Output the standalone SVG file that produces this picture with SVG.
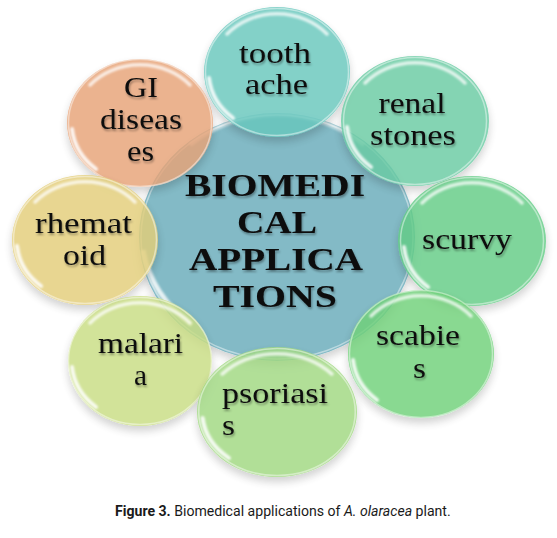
<svg xmlns="http://www.w3.org/2000/svg" width="557" height="538" viewBox="0 0 557 538">
<defs>
<filter id="sh" x="-20%" y="-20%" width="140%" height="150%">
<feDropShadow dx="0" dy="5" stdDeviation="4" flood-color="#000" flood-opacity="0.22"/>
</filter>
<filter id="bl" x="-20%" y="-20%" width="140%" height="140%">
<feGaussianBlur stdDeviation="1.2"/>
</filter>
<filter id="ts" x="-10%" y="-20%" width="130%" height="150%">
<feDropShadow dx="1" dy="2" stdDeviation="1.2" flood-color="#000" flood-opacity="0.35"/>
</filter>
<g id="gloss">
<ellipse cx="0" cy="0" rx="71.5" ry="63.5" fill="none" stroke="#fff" stroke-opacity="0.45" stroke-width="1.5"/>
<path d="M -50 -38 A 66 58 0 0 1 50 -38" fill="none" stroke="#fff" stroke-opacity="0.75" stroke-width="3.5" stroke-linecap="round" filter="url(#bl)"/>
<path d="M -68 6 A 68 60 0 0 0 -44 46" fill="none" stroke="#fff" stroke-opacity="0.85" stroke-width="4" stroke-linecap="round" filter="url(#bl)"/>
</g>
</defs>
<style>
.b{opacity:0.82;filter:url(#sh)}
.t{font-family:"Liberation Serif","Times New Roman",serif;font-size:30px;fill:#111;text-anchor:middle;filter:url(#ts)}
.c{font-family:"Liberation Serif","Times New Roman",serif;font-size:32px;font-weight:bold;fill:#0a0a0a;text-anchor:middle;filter:url(#ts)}
.cap{font-family:Roboto,"Liberation Sans",sans-serif;font-size:15.5px;fill:#1a1a1a}
</style>
<rect width="557" height="538" fill="#fff"/>
<g id="connectors"/>
<g id="center">
<ellipse class="b" cx="277" cy="237" rx="138" ry="124" fill="#68abba"/>
<ellipse cx="277" cy="237" rx="136" ry="122" fill="none" stroke="#fff" stroke-opacity="0.45" stroke-width="1.5"/>
<path d="M 190 145 A 128 114 0 0 1 364 145" fill="none" stroke="#fff" stroke-opacity="0.6" stroke-width="4" filter="url(#bl)"/>
<path d="M 143 250 A 133 118 0 0 0 192 325" fill="none" stroke="#fff" stroke-opacity="0.8" stroke-width="5" filter="url(#bl)"/>
<text class="c" x="275" y="196" textLength="180" lengthAdjust="spacingAndGlyphs">BIOMEDI</text>
<text class="c" x="277" y="233" textLength="80" lengthAdjust="spacingAndGlyphs">CAL</text>
<text class="c" x="276" y="270" textLength="174" lengthAdjust="spacingAndGlyphs">APPLICA</text>
<text class="c" x="275" y="307" textLength="124" lengthAdjust="spacingAndGlyphs">TIONS</text>
</g>
<g id="tooth-ache">
<ellipse class="b" cx="277" cy="72" rx="73" ry="65" fill="#68c7bd"/>
<use href="#gloss" transform="translate(277,72)"/>
<text class="t" x="275" y="63" textLength="72" lengthAdjust="spacingAndGlyphs">tooth</text>
<text class="t" x="276.5" y="94" textLength="63" lengthAdjust="spacingAndGlyphs">ache</text>
</g>
<g id="gi-diseases">
<ellipse class="b" cx="140" cy="123" rx="73" ry="64" fill="#e7a377"/>
<use href="#gloss" transform="translate(140,123)"/>
<text class="t" x="141" y="97" textLength="34" lengthAdjust="spacingAndGlyphs">GI</text>
<text class="t" x="141" y="129" textLength="82" lengthAdjust="spacingAndGlyphs">diseas</text>
<text class="t" x="140.5" y="161" textLength="27" lengthAdjust="spacingAndGlyphs">es</text>
</g>
<g id="renal-stones">
<ellipse class="b" cx="415" cy="121" rx="74" ry="65" fill="#6acba3"/>
<use href="#gloss" transform="translate(415,121)"/>
<text class="t" x="412" y="113" textLength="67" lengthAdjust="spacingAndGlyphs">renal</text>
<text class="t" x="413" y="145" textLength="86" lengthAdjust="spacingAndGlyphs">stones</text>
</g>
<g id="rheumatoid">
<ellipse class="b" cx="85" cy="240" rx="73" ry="65" fill="#e3ce79"/>
<use href="#gloss" transform="translate(85,240)"/>
<text class="t" x="83.5" y="233" textLength="97" lengthAdjust="spacingAndGlyphs">rhemat</text>
<text class="t" x="84.5" y="265" textLength="43" lengthAdjust="spacingAndGlyphs">oid</text>
</g>
<g id="scurvy">
<ellipse class="b" cx="472" cy="241" rx="74" ry="65" fill="#63cc86"/>
<use href="#gloss" transform="translate(472,241)"/>
<text class="t" x="467" y="249" textLength="90" lengthAdjust="spacingAndGlyphs">scurvy</text>
</g>
<g id="malaria">
<ellipse class="b" cx="140" cy="361" rx="72" ry="65" fill="#c9dd83"/>
<use href="#gloss" transform="translate(140,361)"/>
<text class="t" x="140.5" y="353" textLength="85" lengthAdjust="spacingAndGlyphs">malari</text>
<text class="t" x="140.5" y="385" textLength="13" lengthAdjust="spacingAndGlyphs">a</text>
</g>
<g id="scabies">
<ellipse class="b" cx="421" cy="354" rx="73" ry="64" fill="#6fd179"/>
<use href="#gloss" transform="translate(421,354)"/>
<text class="t" x="418" y="345" textLength="84" lengthAdjust="spacingAndGlyphs">scabie</text>
<text class="t" x="419.5" y="378" textLength="13" lengthAdjust="spacingAndGlyphs">s</text>
</g>
<g id="psoriasis">
<ellipse class="b" cx="277" cy="412" rx="80" ry="65" fill="#a0d881"/>
<use href="#gloss" transform="translate(277,412) scale(1.095,1)"/>
<text class="t" x="222" y="403" style="text-anchor:start" textLength="106" lengthAdjust="spacingAndGlyphs">psoriasi</text>
<text class="t" x="222" y="435" style="text-anchor:start" textLength="13" lengthAdjust="spacingAndGlyphs">s</text>
</g>
<g id="caption">
<text class="cap" transform="translate(115,516) scale(0.91,1)" x="0" y="0"><tspan font-weight="bold">Figure 3.</tspan> Biomedical applications of <tspan font-style="italic">A. olaracea</tspan> plant.</text>
</g>
</svg>
